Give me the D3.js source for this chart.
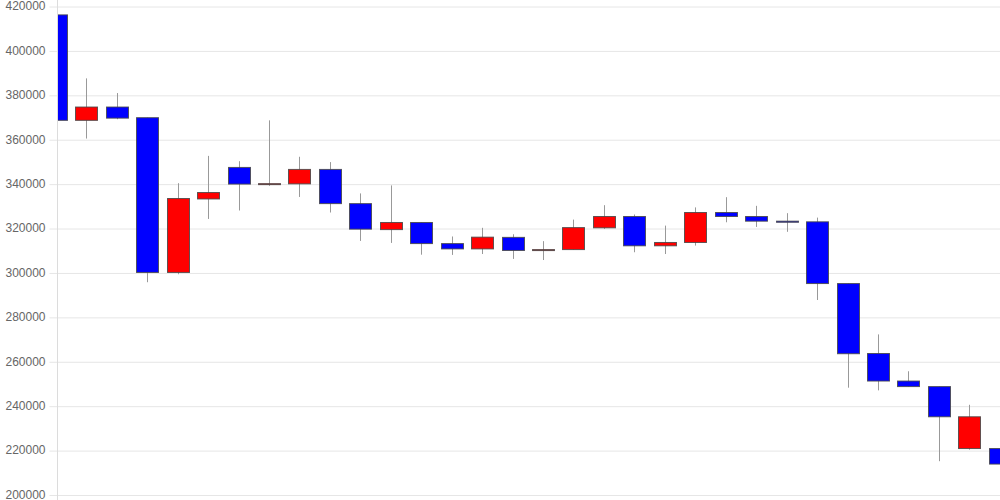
<!DOCTYPE html>
<html>
<head>
<meta charset="utf-8">
<script src="https://cdn.jsdelivr.net/npm/d3@7"></script>
<style>
  body { margin: 0; background: #fff; }
  text { font-family: "Liberation Sans", Arial, sans-serif; }
</style>
</head>
<body>
<svg id="chart" width="1000" height="500"></svg>
<script>
// OHLC values, one entry per session
const opens  = [416000, 368500, 374500, 369700, 300000, 333100, 347300, 339700, 339900, 346400,
                331000, 319300, 322500, 313000, 310600, 315800, 310000, 310300, 320100, 325200,
                312000, 313500, 327000, 325200, 323100, 322800, 295000, 263500, 251100, 248600,
                220700, 220700];
const highs  = [416000, 387400, 380800, 369700, 340200, 352500, 350100, 368500, 352100, 349700,
                335600, 339200, 322500, 316200, 320100, 317200, 314100, 323800, 330300, 326100,
                321100, 329300, 333900, 330000, 326700, 324700, 295000, 272100, 255500, 248600,
                240400, 240400];
const lows   = [360500, 360300, 369000, 295600, 299200, 324100, 327900, 339000, 334000, 327000,
                314200, 313300, 308000, 307900, 308300, 306100, 305600, 310300, 319600, 309100,
                308300, 312100, 322600, 320500, 318300, 287600, 248100, 246900, 248600, 215000,
                220200, 212300];
const closes = [368500, 374500, 369500, 300000, 333300, 336000, 339800, 340000, 346400, 331000,
                319500, 322500, 313000, 310600, 315900, 309900, 310300, 320200, 325200, 312000,
                313500, 327000, 325200, 323100, 322600, 295000, 263400, 251100, 248600, 235000,
                235000, 213700];
const yTicks = [200000, 220000, 240000, 260000, 280000, 300000, 320000, 340000, 360000, 380000, 400000, 420000];

const svg = d3.select("#chart"),
      width = +svg.attr("width"),
      height = +svg.attr("height"),
      margin = {top: 6, right: 0, bottom: 5.5, left: 57};

const candles = opens.map((o, i) => ({i: i, open: o, high: highs[i], low: lows[i], close: closes[i]}));

const x = d3.scaleLinear().domain([0, candles.length - 1]).range([55.8, 999.8]);
const y = d3.scaleLinear().domain([200000, 420000]).range([height - margin.bottom, margin.top]);
const bodyWidth = 22;

// gridlines + labels
const yAxis = d3.axisLeft(y)
    .tickValues(yTicks)
    .tickSize(-(width - margin.left) - 8)
    .tickPadding(4)
    .tickFormat(d3.format("d"));

const gy = svg.append("g")
    .attr("transform", `translate(${margin.left - 8 + 0.5},0)`)
    .call(yAxis);
gy.select(".domain").remove();
gy.selectAll(".tick line").attr("stroke", "#e6e6e6").attr("transform", "translate(0,0.5)");
gy.selectAll(".tick text")
    .attr("x", -4)
    .attr("fill", "#666")
    .style("font-size", "12px");

// vertical axis line
svg.append("line")
    .attr("x1", margin.left + 0.5)
    .attr("x2", margin.left + 0.5)
    .attr("y1", 0)
    .attr("y2", height)
    .attr("stroke", "#dcdcdc");

svg.append("clipPath").attr("id", "plot")
  .append("rect")
    .attr("x", margin.left + 1)
    .attr("y", 0)
    .attr("width", width - margin.left)
    .attr("height", height);

const plot = svg.append("g").attr("clip-path", "url(#plot)");

// wicks
plot.selectAll(".wick")
  .data(candles)
  .join("line")
    .attr("class", "wick")
    .attr("x1", d => Math.round(x(d.i)) + 0.5)
    .attr("x2", d => Math.round(x(d.i)) + 0.5)
    .attr("y1", d => y(d.high))
    .attr("y2", d => y(d.low))
    .attr("stroke", "#999")
    .attr("stroke-width", 1);

// bodies
plot.selectAll(".body")
  .data(candles)
  .join("rect")
    .attr("class", "body")
    .attr("x", d => Math.round(x(d.i) - bodyWidth / 2) + 0.5)
    .attr("y", d => y(Math.max(d.open, d.close)))
    .attr("width", bodyWidth)
    .attr("height", d => Math.max(1, Math.abs(y(d.open) - y(d.close))))
    .attr("fill", d => d.close > d.open ? "#ff0000" : "#0000ff")
    .attr("stroke", "rgba(70,70,70,0.85)")
    .attr("stroke-width", 1);
</script>
</body>
</html>
